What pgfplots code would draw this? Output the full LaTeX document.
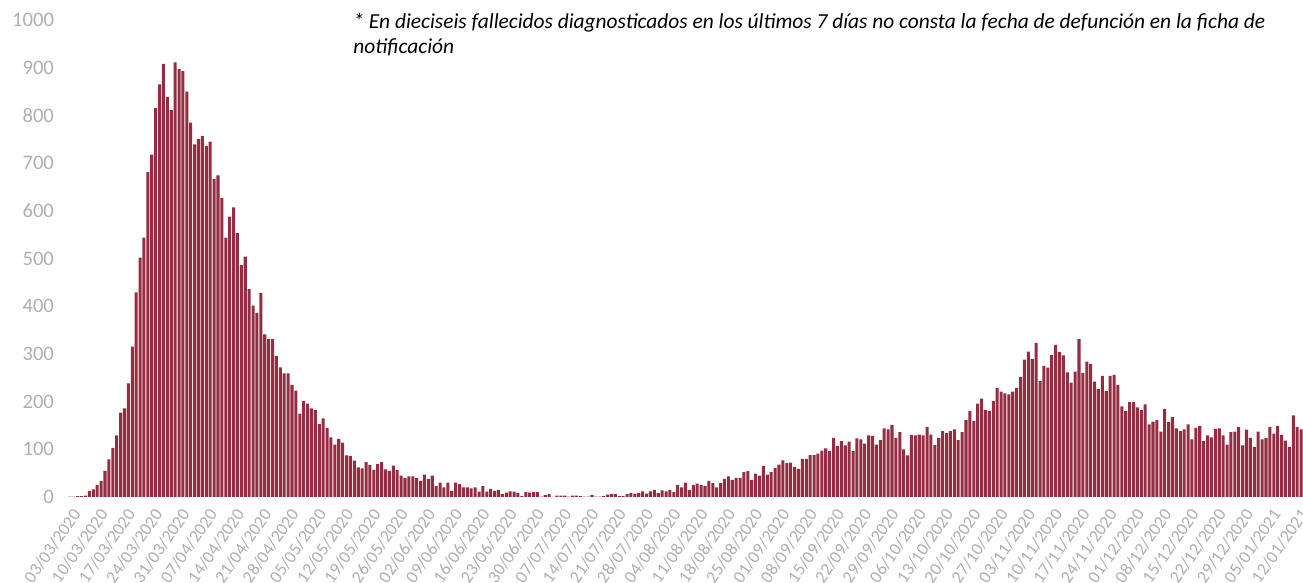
\documentclass[border=0pt]{standalone}
\usepackage{fontspec}
\setmainfont{Carlito}
\usepackage{pgfplots}
\pgfplotsset{compat=1.18}
\definecolor{barred}{RGB}{148,44,66}
\definecolor{tickgray}{RGB}{175,175,175}
\begin{document}
\begin{tikzpicture}
\path[use as bounding box] (-34pt,-43pt) rectangle (617.5pt,248.5pt);
\begin{axis}[
  at={(0,0)}, anchor=south west,
  scale only axis, width=617.5pt, height=238.5pt,
  xmin=-0.5, xmax=316.5, ymin=0, ymax=1000,
  axis line style={draw=none},
  major tick length=0pt,
  ytick={0,100,...,1000},
  xtick={0,7,...,315},
  xticklabels={03/03/2020,10/03/2020,17/03/2020,24/03/2020,31/03/2020,07/04/2020,14/04/2020,21/04/2020,28/04/2020,05/05/2020,12/05/2020,19/05/2020,26/05/2020,02/06/2020,09/06/2020,16/06/2020,23/06/2020,30/06/2020,07/07/2020,14/07/2020,21/07/2020,28/07/2020,04/08/2020,11/08/2020,18/08/2020,25/08/2020,01/09/2020,08/09/2020,15/09/2020,22/09/2020,29/09/2020,06/10/2020,13/10/2020,20/10/2020,27/10/2020,03/11/2020,10/11/2020,17/11/2020,24/11/2020,01/12/2020,08/12/2020,15/12/2020,22/12/2020,29/12/2020,05/01/2021,12/01/2021},
  xticklabel style={xshift=3.5pt, yshift=-7pt, rotate=55, anchor=east, inner sep=0pt, font=\fontsize{8.8}{10}\selectfont, text=tickgray},
  yticklabel style={xshift=-3.5pt, font=\fontsize{10.3}{12}\selectfont, text=tickgray},
  /pgf/number format/assume math mode=true,
  /pgf/number format/1000 sep={},
  ybar, bar width=0.78,
  clip=false,
]
\addplot[fill=barred, draw=none] table[x expr=\coordindex, y index=0, header=false, row sep=\\] {
1\\1\\2\\2\\3\\13\\16\\25\\34\\55\\79\\103\\129\\177\\186\\238\\315\\429\\502\\544\\
681\\718\\815\\865\\908\\839\\811\\911\\897\\893\\850\\785\\739\\750\\757\\736\\745\\667\\674\\627\\
544\\588\\607\\553\\486\\504\\436\\401\\386\\428\\341\\331\\331\\296\\272\\259\\259\\235\\223\\175\\
201\\196\\186\\182\\153\\165\\145\\125\\110\\122\\114\\87\\86\\76\\62\\60\\73\\67\\57\\69\\
73\\58\\55\\66\\57\\45\\40\\43\\43\\40\\34\\47\\38\\45\\23\\30\\20\\30\\13\\30\\
27\\20\\20\\18\\20\\11\\23\\11\\17\\13\\15\\6\\9\\12\\11\\8\\2\\10\\9\\10\\
10\\1\\4\\6\\0\\3\\3\\3\\1\\3\\3\\2\\1\\1\\4\\1\\1\\2\\5\\6\\
6\\2\\2\\6\\8\\7\\8\\12\\7\\12\\15\\8\\14\\12\\15\\10\\25\\20\\30\\15\\
25\\28\\25\\23\\34\\29\\20\\29\\38\\43\\36\\40\\40\\52\\54\\36\\49\\45\\65\\47\\
52\\61\\68\\77\\71\\72\\63\\59\\80\\80\\88\\88\\91\\97\\102\\96\\124\\107\\117\\108\\
116\\96\\123\\121\\112\\129\\128\\110\\119\\144\\142\\151\\124\\136\\100\\87\\130\\129\\131\\129\\
147\\131\\109\\124\\138\\134\\138\\142\\119\\136\\161\\180\\159\\196\\206\\182\\180\\201\\228\\221\\
217\\215\\221\\229\\252\\288\\305\\289\\323\\243\\275\\271\\298\\319\\304\\297\\261\\240\\263\\331\\
260\\284\\279\\242\\226\\254\\222\\254\\256\\235\\190\\180\\199\\199\\188\\182\\194\\152\\158\\161\\
137\\185\\157\\168\\144\\138\\142\\152\\121\\145\\149\\117\\129\\125\\143\\144\\129\\110\\136\\137\\
147\\108\\141\\124\\105\\137\\121\\124\\147\\133\\149\\130\\118\\105\\171\\147\\142\\
};
\node[anchor=north west, align=left, inner sep=0pt, font=\fontsize{10.7}{12.5}\selectfont\itshape] at (rel axis cs:0.2308,1.0147)
  {* En dieciseis fallecidos diagnosticados en los últimos 7 días no consta la fecha de defunción en la ficha de\\notificación};
\end{axis}
\end{tikzpicture}
\end{document}
